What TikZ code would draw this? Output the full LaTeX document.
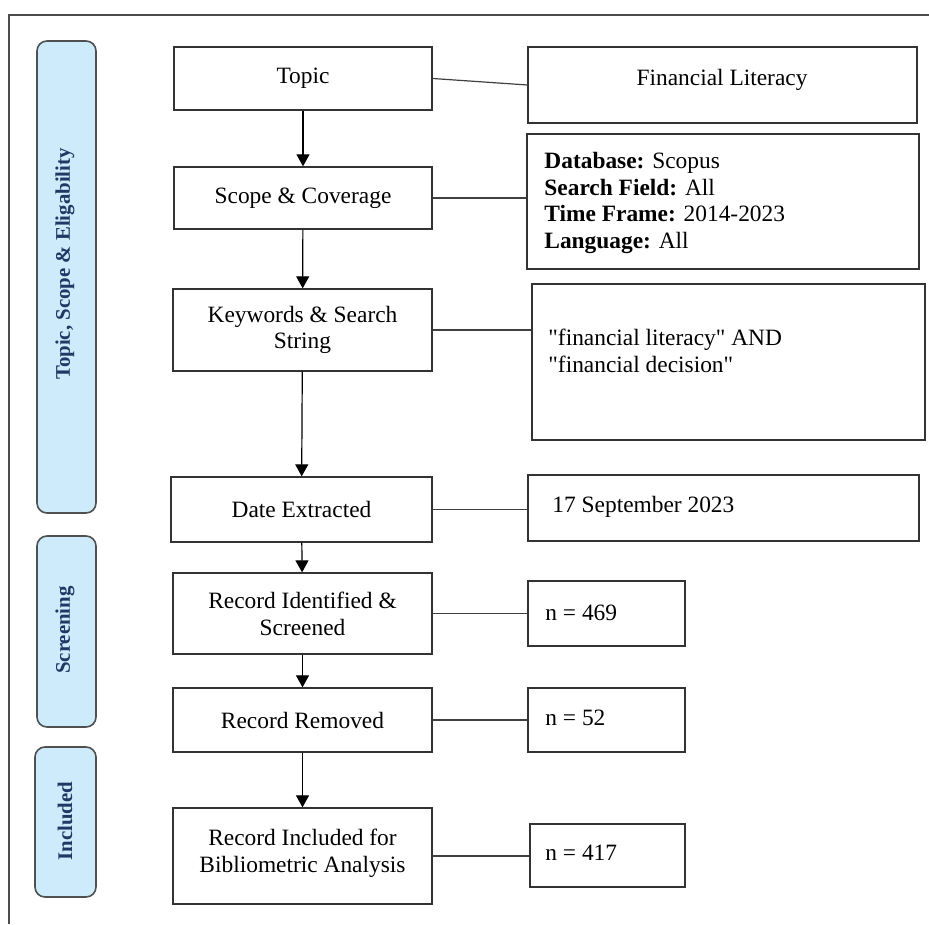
\documentclass[tikz,border=0pt]{standalone}
\usepackage{fontspec}
\setmainfont{Liberation Serif}[Ligatures=TeXOff]
\usetikzlibrary{fit,arrows.meta}
\definecolor{sidefill}{HTML}{CDEBFB}
\definecolor{sideline}{HTML}{505050}
\definecolor{navy}{HTML}{1F3864}
\begin{document}
\begin{tikzpicture}[x=0.5pt,y=-0.5pt,
  box/.style={draw=black!80, line width=0.65pt, inner sep=0pt, align=center,
    font=\fontsize{11.7}{13.4}\selectfont},
  side/.style={draw=sideline, fill=sidefill, rounded corners=5pt, line width=0.8pt, inner sep=0pt},
  sidetext/.style={text=navy, font=\bfseries\fontsize{10.4}{12}\selectfont, rotate=90, inner sep=0pt},
  arr/.style={-{Triangle[length=6pt,width=6.5pt]}, line width=0.6pt},
  link/.style={line width=0.6pt, draw=black!75},
  txt/.style={font=\fontsize{11.7}{13.4}\selectfont, align=left, inner sep=0pt},
  framel/.style={line width=0.6pt, draw=black!70}]
\useasboundingbox (0,0) rectangle (929,924);
\fill[white] (0,0) rectangle (929,924);
% frame
\coordinate (fa) at (929,15);
\coordinate (fb) at (9,15);
\coordinate (fc) at (9,924);
\draw[framel] (fa) -- (fb) -- (fc);
% side bars
\node[side, fit={(37,41)(96,513)}] (s1) {};
\node[side, fit={(37,536)(96,727)}] (s2) {};
\node[side, fit={(35,747)(96,897)}] (s3) {};
\node[sidetext] (s1t) at (65,264) {Topic, Scope \& Eligability};
\node[sidetext] (s2t) at (65,630) {Screening};
\node[sidetext] (s3t) at (65,821) {Included};
% main column
\node[box, minimum width=129pt, minimum height=31.5pt] (topic) at (303,78.5) {Topic};
\node[box, minimum width=129pt, minimum height=31pt] (scope) at (303,198) {Scope \& Coverage};
\node[box, minimum width=129.5pt, minimum height=41pt] (kw) at (302.5,330) {Keywords \& Search\\String};
\node[box, minimum width=130.5pt, minimum height=32.5pt] (date) at (301.5,509.5) {Date Extracted};
\node[box, minimum width=129.5pt, minimum height=40.5pt] (recid) at (302.5,613.5) {Record Identified \&\\Screened};
\node[box, minimum width=129.5pt, minimum height=32pt] (recrem) at (302.5,720) {Record Removed};
\node[box, minimum width=129.5pt, minimum height=48pt, text depth=5pt] (recinc) at (302.5,856) {Record Included for\\Bibliometric Analysis};
% right column
\node[box, fit={(528,47)(917,123)}] (fl) {};
\node[box, fit={(527,134)(919,269)}] (db) {};
\node[box, fit={(532,284)(925,440)}] (kwb) {};
\node[box, fit={(528,475)(919,541)}] (dateb) {};
\node[box, fit={(528,581)(685,646)}] (n1) {};
\node[box, fit={(528,688)(685,752)}] (n2) {};
\node[box, fit={(530,824)(685,887)}] (n3) {};
% texts of right column
\node[txt] (flt) at (722,80) {Financial Literacy};
\node[txt, anchor=west] (dbt) at (544,203) {\textbf{Database:} Scopus\\\textbf{Search Field:} All\\\textbf{Time Frame:} 2014-2023\\\textbf{Language:} All};
\node[txt, anchor=west] (kwbt) at (548,351) {"financial literacy" AND\\"financial decision"};
\node[txt, anchor=west] (datet) at (552,507) {17 September 2023};
\node[txt, anchor=west] (n1t) at (545,613) {n = 469};
\node[txt, anchor=west] (n2t) at (545,718) {n = 52};
\node[txt, anchor=west] (n3t) at (545,853) {n = 417};
% arrows
\draw[arr] (topic) -- (scope);
\draw[arr] (scope) -- (kw);
\draw[arr] (kw) -- (date);
\draw[arr] (date) -- (recid);
\draw[arr] (recid) -- (recrem);
\draw[arr] (recrem) -- (recinc);
% links
\draw[link] (topic.east) -- (fl.west);
\draw[link] (scope.east) -- (scope.east -| db.west);
\draw[link] (kw.east) -- (kw.east -| kwb.west);
\draw[link] (date.east) -- (date.east -| dateb.west);
\draw[link] (recid.east) -- (recid.east -| n1.west);
\draw[link] (recrem.east) -- (recrem.east -| n2.west);
\draw[link] (recinc.east) -- (recinc.east -| n3.west);
\end{tikzpicture}
\end{document}
